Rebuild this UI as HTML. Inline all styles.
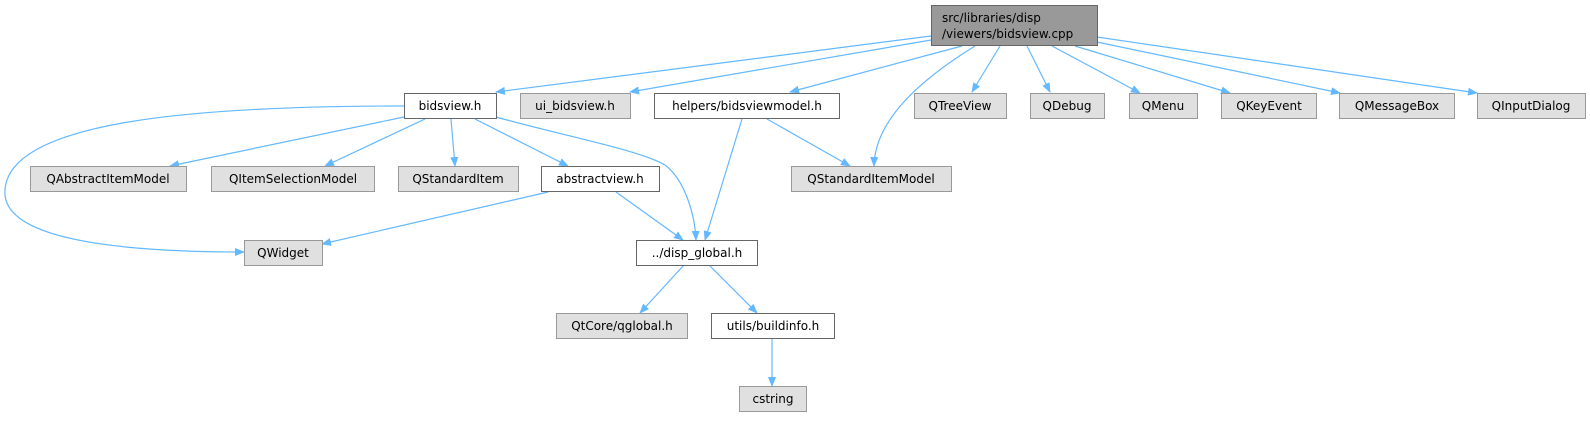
<!DOCTYPE html>
<html><head><meta charset="utf-8"><style>
body{margin:0;background:#fff;width:1590px;height:417px;overflow:hidden}
svg text{font-family:"DejaVu Sans","Liberation Sans",sans-serif;font-size:12px;fill:#000}
</style></head><body>
<svg width="1590" height="417" viewBox="0 0 1590 417" xmlns="http://www.w3.org/2000/svg">
<defs><marker id="a" markerWidth="10" markerHeight="8" refX="9" refY="4" orient="auto" markerUnits="userSpaceOnUse"><path d="M0,0 L10,4 L0,8 z" fill="#63b8ff"/></marker></defs>
<g fill="none" stroke="#63b8ff" stroke-width="1.2" marker-end="url(#a)">
<path d="M931,36 L496,92"/>
<path d="M931,40 L630,92"/>
<path d="M962,46 L790,92"/>
<path d="M975,46 C920,80 875,120 874,166"/>
<path d="M1000,46 L972,92"/>
<path d="M1027,46 L1050,92"/>
<path d="M1052,46 L1140,93"/>
<path d="M1075,46 L1230,93"/>
<path d="M1097,42 L1340,93"/>
<path d="M1097,37 L1477,93"/>
<path d="M404,106 C200,106 0,120 5,195 C10,250 180,252 244,252"/>
<path d="M404,117 L170,166"/>
<path d="M425,119 L325,166"/>
<path d="M451,119 L455,166"/>
<path d="M475,119 L568,166"/>
<path d="M496,117 C560,135 640,150 665,165 C685,180 695,215 696,240"/>
<path d="M742,119 L705,240"/>
<path d="M767,119 L850,166"/>
<path d="M548,192 L322,244"/>
<path d="M616,192 L683,240"/>
<path d="M684,265 L640,313"/>
<path d="M709,265 L757,313"/>
<path d="M772,339 L772,386"/>
</g>
<g stroke-width="1">
<rect x="931.5" y="5.5" width="166" height="40" fill="#999" stroke="#666"/>
<rect x="404.5" y="93.5" width="92" height="25" fill="#fff" stroke="#666"/>
<rect x="520.5" y="93.5" width="110" height="25" fill="#e0e0e0" stroke="#999"/>
<rect x="654.5" y="93.5" width="185" height="25" fill="#fff" stroke="#666"/>
<rect x="914.5" y="93.5" width="92" height="25" fill="#e0e0e0" stroke="#999"/>
<rect x="1030.5" y="93.5" width="74" height="25" fill="#e0e0e0" stroke="#999"/>
<rect x="1129.5" y="93.5" width="68" height="25" fill="#e0e0e0" stroke="#999"/>
<rect x="1221.5" y="93.5" width="95" height="25" fill="#e0e0e0" stroke="#999"/>
<rect x="1339.5" y="93.5" width="115" height="25" fill="#e0e0e0" stroke="#999"/>
<rect x="1477.5" y="93.5" width="108" height="25" fill="#e0e0e0" stroke="#999"/>
<rect x="30.5" y="166.5" width="156" height="25" fill="#e0e0e0" stroke="#999"/>
<rect x="211.5" y="166.5" width="163" height="25" fill="#e0e0e0" stroke="#999"/>
<rect x="398.5" y="166.5" width="120" height="25" fill="#e0e0e0" stroke="#999"/>
<rect x="541.5" y="166.5" width="118" height="25" fill="#fff" stroke="#666"/>
<rect x="791.5" y="166.5" width="160" height="25" fill="#e0e0e0" stroke="#999"/>
<rect x="244.5" y="240.5" width="78" height="25" fill="#e0e0e0" stroke="#999"/>
<rect x="636.5" y="240.5" width="121" height="25" fill="#fff" stroke="#666"/>
<rect x="556.5" y="313.5" width="131" height="25" fill="#e0e0e0" stroke="#999"/>
<rect x="711.5" y="313.5" width="123" height="25" fill="#fff" stroke="#666"/>
<rect x="739.5" y="386.5" width="67" height="25" fill="#e0e0e0" stroke="#999"/>
</g>
<g>
<text x="942" y="22">src/libraries/disp</text>
<text x="942" y="38">/viewers/bidsview.cpp</text>
</g>
<g text-anchor="middle">
<text x="450" y="110">bidsview.h</text>
<text x="575" y="110">ui_bidsview.h</text>
<text x="747" y="110">helpers/bidsviewmodel.h</text>
<text x="960" y="110">QTreeView</text>
<text x="1067" y="110">QDebug</text>
<text x="1163" y="110">QMenu</text>
<text x="1269" y="110">QKeyEvent</text>
<text x="1397" y="110">QMessageBox</text>
<text x="1531" y="110">QInputDialog</text>
<text x="108" y="183">QAbstractItemModel</text>
<text x="293" y="183">QItemSelectionModel</text>
<text x="458" y="183">QStandardItem</text>
<text x="600" y="183">abstractview.h</text>
<text x="871" y="183">QStandardItemModel</text>
<text x="283" y="257">QWidget</text>
<text x="697" y="257">../disp_global.h</text>
<text x="622" y="330">QtCore/qglobal.h</text>
<text x="773" y="330">utils/buildinfo.h</text>
<text x="773" y="403">cstring</text>
</g>
</svg>
</body></html>
